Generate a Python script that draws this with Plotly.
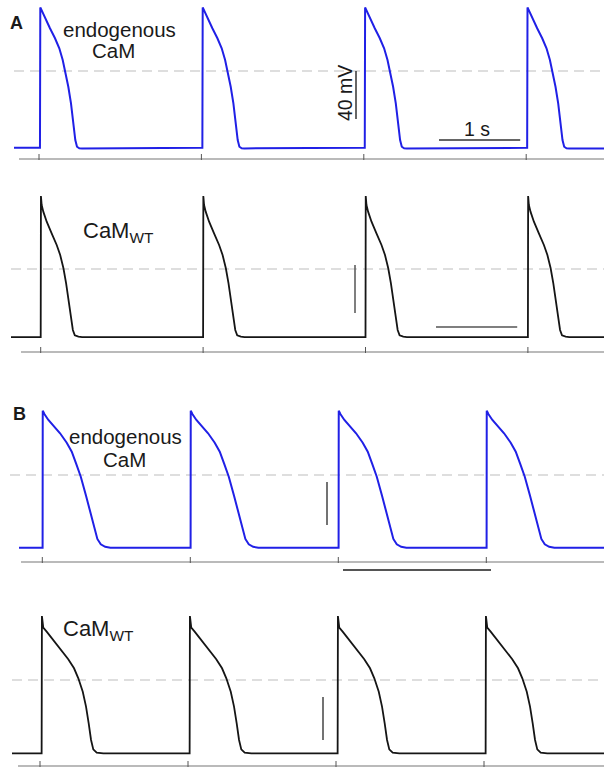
import plotly.graph_objects as go

# ------------------------------------------------------------------ data
# stimulus times (s)
stim_A = [0, 2, 4, 6]          # panel A, 0.5 Hz pacing
stim_B = [0, 1, 2, 3]          # panel B, 1 Hz pacing

# one action potential per condition: time after stimulus (ms), membrane potential (mV)
apA_endo_t = [12, 16, 74, 135, 197, 250, 292, 329, 361, 394, 422, 447, 468, 496, 529]
apA_endo_v = [-64.0, 53.0, 43.9, 35.6, 27.3, 18.9, 9.2, -1.9, -13.1, -26.9, -43.6, -57.5, -63.1, -64.4, -64.5]

apA_wt_t = [0, 3, 12, 32, 74, 135, 197, 240, 280, 313, 342, 371, 396, 420, 465, 510]
apA_wt_v = [-56.7, 60.8, 53.3, 47.8, 39.4, 29.7, 20.0, 11.7, 0.6, -12.0, -25.8, -39.8, -50.8, -55.3, -56.4, -56.7]

apB_endo_t = [2, 3, 14, 41, 74, 120, 165, 199, 228, 260, 295, 326, 341, 356, 372, 395, 425, 460]
apB_endo_v = [-67.6, 59.8, 56.7, 51.2, 45.6, 38.8, 30.0, 21.7, 10.9, -1.6, -19.0, -36.0, -43.0, -52.0, -59.5, -64.5, -66.8, -67.6]

apB_wt_t = [11, 13, 16, 22, 45, 90, 147, 191, 230, 259, 289, 311, 329, 345, 360, 383, 428]
apB_wt_v = [-68.2, 59.5, 54.2, 48.7, 45.0, 37.2, 27.9, 19.3, 10.9, 1.6, -10.9, -24.8, -40.3, -55.8, -64.5, -67.6, -68.2]

panel_labels = ["A", "B"]
cond_endo = ["endogenous", "CaM"]
cond_wt = "CaM<sub>WT</sub>"
scale_v_label = "40 mV"
scale_t_label = "1 s"
scale_v_mV = 40
scale_t_s = 1

# ------------------------------------------------------------------ layout
W, H = 604, 777
BLUE = "#2020e6"
BLACK = "#151515"
TXT = "#1a1a1a"
FONT = "Liberation Sans, Arial, sans-serif"

panels = [
    dict(stims=stim_A, t=apA_endo_t, v=apA_endo_v, color=BLUE, lw=2.0,
         top=0, bot=176, xa=39.0, pps=81.2, zr=71, ppmv=1.2,
         x0=14, dash0=14, axis_row=159, axis0=19,
         vbar=(356, 71), vcol="#333333", hbar=(439, 140), hcol="#333333", hw=1.5),
    dict(stims=stim_A, t=apA_wt_t, v=apA_wt_v, color=BLACK, lw=1.8,
         top=176, bot=366, xa=40.7, pps=81.2, zr=269, ppmv=1.2,
         x0=11, dash0=11, axis_row=352, axis0=21,
         vbar=(355, 265), vcol="#555555", hbar=(436, 327), hcol="#555555", hw=1.5),
    dict(stims=stim_B, t=apB_endo_t, v=apB_endo_v, color=BLUE, lw=2.0,
         top=366, bot=584, xa=42.3, pps=148.0, zr=475, ppmv=1.075,
         x0=19, dash0=10, axis_row=562, axis0=21,
         vbar=(327, 482), vcol="#444444", hbar=(343, 570), hcol="#555555", hw=2.2),
    dict(stims=stim_B, t=apB_wt_t, v=apB_wt_v, color=BLACK, lw=1.8,
         top=584, bot=777, xa=40.0, pps=148.0, zr=680, ppmv=1.075,
         x0=12, dash0=12, axis_row=766, axis0=18,
         vbar=(323, 697), vcol="#444444", hbar=None, hcol=None, hw=1.5),
]

fig = go.Figure()
shapes = []
annotations = []


def px2t(p, px):
    return (px - p["xa"]) / p["pps"]


def row2v(p, row):
    return (p["zr"] - row) / p["ppmv"]


for i, p in enumerate(panels):
    n = "" if i == 0 else str(i + 1)
    xr, yr = "x" + n, "y" + n
    t_lo, t_hi = px2t(p, 0), px2t(p, W)
    t_end = t_hi + 0.2

    # trace built from the single-beat template at each stimulus time
    xs = [px2t(p, p["x0"])]
    ys = [p["v"][0]]
    for s in p["stims"]:
        for tm, vv in zip(p["t"], p["v"]):
            xs.append(s + tm / 1000.0)
            ys.append(vv)
    xs.append(t_end)
    ys.append(p["v"][-1])

    fig.add_trace(go.Scatter(x=xs, y=ys, mode="lines", xaxis=xr, yaxis=yr,
                             line=dict(color=p["color"], width=p["lw"]),
                             hoverinfo="skip", showlegend=False))

    fig.update_layout(**{
        ("xaxis" + n): dict(domain=[0, 1], range=[t_lo, t_hi], visible=False,
                            anchor=yr, fixedrange=True),
        ("yaxis" + n): dict(domain=[1 - p["bot"] / H, 1 - p["top"] / H],
                            range=[row2v(p, p["bot"]), row2v(p, p["top"])],
                            visible=False, anchor=xr, fixedrange=True),
    })

    # dashed 0 mV reference
    shapes.append(dict(type="line", xref=xr, yref=yr, x0=px2t(p, p["dash0"]), x1=t_end,
                       y0=0, y1=0, layer="below",
                       line=dict(color="#d4d4d4", width=1.5, dash="10px,6px")))
    # stimulus time axis
    va = row2v(p, p["axis_row"])
    shapes.append(dict(type="line", xref=xr, yref=yr, x0=px2t(p, p["axis0"]), x1=t_end,
                       y0=va, y1=va, line=dict(color="#a3a3a3", width=1.5)))
    for s in p["stims"]:
        shapes.append(dict(type="line", xref=xr, yref=yr, x0=s, x1=s,
                           y0=va - 1 / p["ppmv"], y1=va + 5 / p["ppmv"],
                           line=dict(color="#555555", width=1)))
    # scale bars
    vx, vrow = p["vbar"]
    vt = row2v(p, vrow)
    shapes.append(dict(type="line", xref=xr, yref=yr, x0=px2t(p, vx), x1=px2t(p, vx),
                       y0=vt, y1=vt - scale_v_mV, line=dict(color=p["vcol"], width=1.5)))
    if p["hbar"] is not None:
        hx, hrow = p["hbar"]
        ht = px2t(p, hx)
        hv = row2v(p, hrow)
        shapes.append(dict(type="line", xref=xr, yref=yr, x0=ht, x1=ht + scale_t_s,
                           y0=hv, y1=hv, line=dict(color=p["hcol"], width=p["hw"])))


def ann(text, x, y, size=20.5, bold=False, angle=0):
    annotations.append(dict(
        text=("<b>%s</b>" % text) if bold else text,
        x=x / W, y=1 - y / H, xref="paper", yref="paper",
        xanchor="center", yanchor="middle", showarrow=False, textangle=angle,
        font=dict(family=FONT, size=size, color=TXT)))


ann(panel_labels[0], 16, 23, size=18, bold=True)
ann(panel_labels[1], 19, 414, size=18, bold=True)
ann(cond_endo[0], 119, 29)
ann(cond_endo[1], 113, 51)
ann(cond_endo[0], 125.5, 436)
ann(cond_endo[1], 124, 459)
ann(cond_wt, 118, 232, size=22)
ann(cond_wt, 98, 630, size=22)
ann(scale_v_label, 345, 93, size=19.5, angle=-90)
ann(scale_t_label, 477, 129, size=19.5)

fig.update_layout(width=W, height=H, autosize=False,
                  margin=dict(l=0, r=0, t=0, b=0, pad=0),
                  paper_bgcolor="white", plot_bgcolor="white",
                  shapes=shapes, annotations=annotations, showlegend=False)

fig.write_html("out.html", config=dict(displayModeBar=False))
